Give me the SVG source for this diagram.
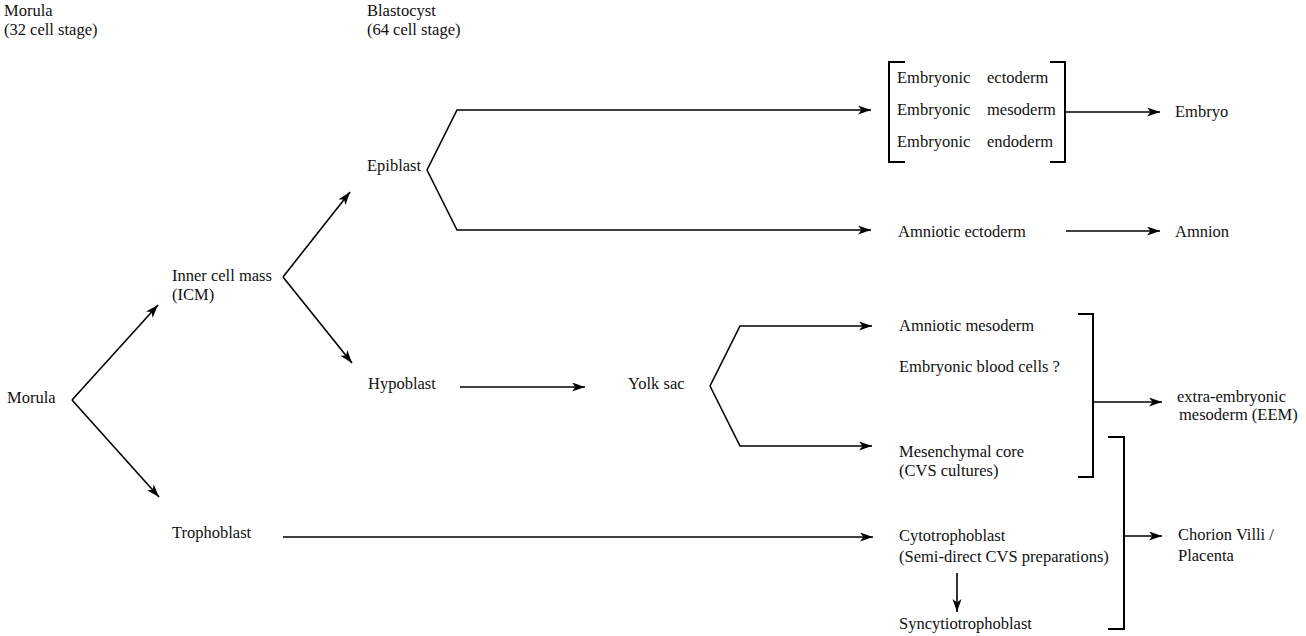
<svg xmlns="http://www.w3.org/2000/svg" width="1306" height="636" viewBox="0 0 1306 636" font-family="'Liberation Serif', serif">
<defs>
<marker id="ah" markerUnits="userSpaceOnUse" markerWidth="14" markerHeight="10" refX="13" refY="4.5" orient="auto">
<path d="M0,0 L13,4.5 L0,9 L3.5,4.5 Z" fill="#000"/>
</marker>
<style>
text{font-family:'Liberation Serif',serif;font-size:16.5px;fill:#111}
.c{fill:none;stroke:#000;stroke-width:1.6;stroke-linejoin:miter}
.a{marker-end:url(#ah)}
.b{fill:none;stroke:#000;stroke-width:2}
</style>
</defs>
<rect width="1306" height="636" fill="#fff"/>

<g id="stage-morula"><text x="4" y="16">Morula</text><text x="4" y="35">(32 cell stage)</text></g>
<g id="stage-blastocyst"><text x="367" y="16">Blastocyst</text><text x="367" y="35">(64 cell stage)</text></g>

<g id="morula"><text x="7" y="403">Morula</text></g>
<g id="icm"><text x="172" y="281">Inner cell mass</text><text x="172" y="300">(ICM)</text></g>
<g id="trophoblast"><text x="172" y="538">Trophoblast</text></g>
<g id="epiblast"><text x="367" y="171">Epiblast</text></g>
<g id="hypoblast"><text x="368" y="389">Hypoblast</text></g>
<g id="yolk-sac"><text x="628" y="389">Yolk sac</text></g>

<g id="embryonic-layers">
<text y="83"><tspan x="897">Embryonic</tspan><tspan x="987">ectoderm</tspan></text>
<text y="115"><tspan x="897">Embryonic</tspan><tspan x="987">mesoderm</tspan></text>
<text y="147"><tspan x="897">Embryonic</tspan><tspan x="987">endoderm</tspan></text>
<path class="b" d="M905,62 H889 V162 H905"/>
<path class="b" d="M1050,62 H1065 V162 H1050"/>
</g>
<g id="embryo"><text x="1175" y="117">Embryo</text></g>
<g id="amniotic-ectoderm"><text x="898" y="237">Amniotic ectoderm</text></g>
<g id="amnion"><text x="1175" y="237">Amnion</text></g>

<g id="amniotic-mesoderm"><text x="899" y="331">Amniotic mesoderm</text></g>
<g id="blood-cells"><text x="899" y="372">Embryonic blood cells ?</text></g>
<g id="mesenchymal-core"><text x="899" y="457">Mesenchymal core</text><text x="899" y="476">(CVS cultures)</text></g>
<g id="eem"><text x="1177" y="402">extra-embryonic</text><text x="1179" y="420">mesoderm (EEM)</text></g>

<g id="cytotrophoblast"><text x="899" y="541">Cytotrophoblast</text><text x="899" y="562">(Semi-direct CVS preparations)</text></g>
<g id="syncytiotrophoblast"><text x="899" y="629">Syncytiotrophoblast</text></g>
<g id="chorion"><text x="1178" y="540">Chorion Villi /</text><text x="1178" y="561">Placenta</text></g>

<g id="connectors">
<path class="c a" d="M72,400 L158,305"/>
<path class="c a" d="M72,400 L159,497"/>
<path class="c a" d="M283,277 L350,192"/>
<path class="c a" d="M283,277 L352,363"/>
<path class="c a" d="M283,537 L873,537"/>
<path class="c a" d="M427,170 L457,110 L871,110"/>
<path class="c a" d="M427,170 L457,230 L871,230"/>
<path class="c a" d="M460,387 L585,387"/>
<path class="c a" d="M710,386 L740,326 L872,326"/>
<path class="c a" d="M710,386 L740,446 L872,446"/>
<path class="c a" d="M1065,112 L1160,112"/>
<path class="c a" d="M1066,231 L1160,231"/>
<path class="b" d="M1078,314 H1093 V477 H1078"/>
<path class="c a" d="M1093,402 L1162,402"/>
<path class="b" d="M1108,437 H1124 V629 H1108"/>
<path class="c a" d="M1124,536 L1162,536"/>
<path class="c a" d="M957,573 L957,612"/>
</g>
</svg>
